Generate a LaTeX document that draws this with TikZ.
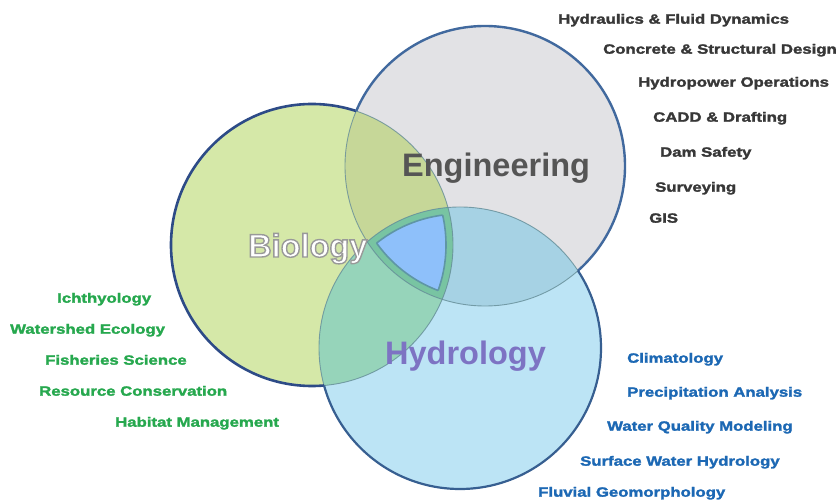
\documentclass[tikz,border=0pt]{standalone}
\usepackage{fontspec}
\newfontfamily\bigf{Liberation Sans Bold}
\newfontfamily\labf{Liberation Sans Bold}[FakeStretch=1.25,FakeBold=2]
\definecolor{bioF}{RGB}{213,232,168}
\definecolor{engF}{RGB}{226,226,229}
\definecolor{hydF}{RGB}{188,228,245}
\definecolor{beF}{RGB}{198,215,152}
\definecolor{bhF}{RGB}{150,212,186}
\definecolor{ehF}{RGB}{166,210,228}
\definecolor{bandF}{RGB}{120,196,162}
\definecolor{coreF}{RGB}{142,192,250}
\definecolor{coreL}{RGB}{95,150,165}
\definecolor{thinL}{RGB}{100,140,150}
\definecolor{bioL}{RGB}{45,75,135}
\definecolor{engL}{RGB}{65,105,158}
\definecolor{hydL}{RGB}{55,95,145}
\definecolor{engT}{RGB}{55,55,55}
\definecolor{bioT}{RGB}{38,168,78}
\definecolor{hydT}{RGB}{28,104,180}
\definecolor{engBig}{RGB}{85,85,85}
\definecolor{hydBig}{RGB}{125,115,195}
\newcommand\outlinetext[1]{\special{pdf:literal direct 2 Tr 1.4 w 0.6 0.6 0.6 RG}#1\special{pdf:literal direct 0 Tr}}
\tikzset{
  lab/.style={anchor=base west, inner sep=0pt, font=\labf\fontsize{13.4}{14}\selectfont},
  englab/.style={lab, text=engT},
  biolab/.style={lab, text=bioT},
  hydlab/.style={lab, text=hydT},
  big/.style={anchor=base west, inner sep=0pt, font=\bigf\fontsize{32.5}{34}\selectfont},
  thin/.style={draw=thinL, line width=0.9pt, draw opacity=0.8}
}
\begin{document}
\begin{tikzpicture}[x=1pt,y=-1pt]
\useasboundingbox[fill=white] (0,0) rectangle (839,502);
\coordinate (cB) at (312,245);
\coordinate (cE) at (485,166);
\coordinate (cH) at (460,348);
% base fills
\fill[bioF] (cB) circle (141pt);
\fill[engF] (cE) circle (140pt);
\fill[hydF] (cH) circle (141pt);
% pairwise overlaps
\begin{scope}\clip (cB) circle (141pt); \fill[beF] (cE) circle (140pt);\end{scope}
\begin{scope}\clip (cB) circle (141pt); \fill[bhF] (cH) circle (141pt);\end{scope}
\begin{scope}\clip (cE) circle (140pt); \fill[ehF] (cH) circle (141pt);\end{scope}
% centre band
\begin{scope}\clip (cB) circle (141pt); \clip (cE) circle (140pt); \fill[bandF] (cH) circle (141pt);\end{scope}
\begin{scope}\clip (cB) circle (134pt); \clip (cE) circle (133pt); \fill[coreF] (cH) circle (134pt);\end{scope}
\begin{scope}\clip (cB) circle (134pt); \clip (cE) circle (133pt); \draw[coreL, line width=1.6pt] (cH) circle (134pt);\end{scope}
\begin{scope}\clip (cB) circle (134pt); \clip (cH) circle (134pt); \draw[coreL, line width=1.6pt] (cE) circle (133pt);\end{scope}
\begin{scope}\clip (cE) circle (133pt); \clip (cH) circle (134pt); \draw[coreL, line width=1.6pt] (cB) circle (134pt);\end{scope}
% thin inner outlines
\draw[thin] (cB) circle (141pt);
\draw[thin] (cE) circle (140pt);
\draw[thin] (cH) circle (141pt);
% thick outer outlines
\begin{scope}[even odd rule]
  \clip (-10,-10) rectangle (850,512) (cE) circle (140pt);
  \begin{scope}[even odd rule]
    \clip (-10,-10) rectangle (850,512) (cH) circle (141pt);
    \draw[bioL, line width=2.6pt] (cB) circle (141pt);
  \end{scope}
\end{scope}
\begin{scope}[even odd rule]
  \clip (-10,-10) rectangle (850,512) (cB) circle (141pt);
  \begin{scope}[even odd rule]
    \clip (-10,-10) rectangle (850,512) (cH) circle (141pt);
    \draw[engL, line width=2.4pt] (cE) circle (140pt);
  \end{scope}
\end{scope}
\begin{scope}[even odd rule]
  \clip (-10,-10) rectangle (850,512) (cB) circle (141pt);
  \begin{scope}[even odd rule]
    \clip (-10,-10) rectangle (850,512) (cE) circle (140pt);
    \draw[hydL, line width=2.2pt] (cH) circle (141pt);
  \end{scope}
\end{scope}
% big labels
\node[big, text=engBig] (eng) at (402,177) {Engineering};
\node[big, text=white] (bio) at (248,257) {\outlinetext{Biology}};
\node[big, text=hydBig] (hyd) at (385,365) {Hydrology};
% engineering list
\node[englab] (e1) at (558,23.7) {Hydraulics \& Fluid Dynamics};
\node[englab] (e2) at (603,53.7) {Concrete \& Structural Design};
\node[englab] (e3) at (638,86.7) {Hydropower Operations};
\node[englab] (e4) at (653,121.7) {CADD \& Drafting};
\node[englab] (e5) at (660,156.7) {Dam Safety};
\node[englab] (e6) at (655,191.7) {Surveying};
\node[englab] (e7) at (649,222.7) {GIS};
% biology list
\node[biolab] (b1) at (57,302.7) {Ichthyology};
\node[biolab] (b2) at (10,333.7) {Watershed Ecology};
\node[biolab] (b3) at (45,364.7) {Fisheries Science};
\node[biolab] (b4) at (39,395.7) {Resource Conservation};
\node[biolab] (b5) at (115,426.7) {Habitat Management};
% hydrology list
\node[hydlab] (h1) at (627,362.7) {Climatology};
\node[hydlab] (h2) at (627,396.7) {Precipitation Analysis};
\node[hydlab] (h3) at (607,430.7) {Water Quality Modeling};
\node[hydlab] (h4) at (580,465.7) {Surface Water Hydrology};
\node[hydlab] (h5) at (538,496.7) {Fluvial Geomorphology};
\end{tikzpicture}
\end{document}
